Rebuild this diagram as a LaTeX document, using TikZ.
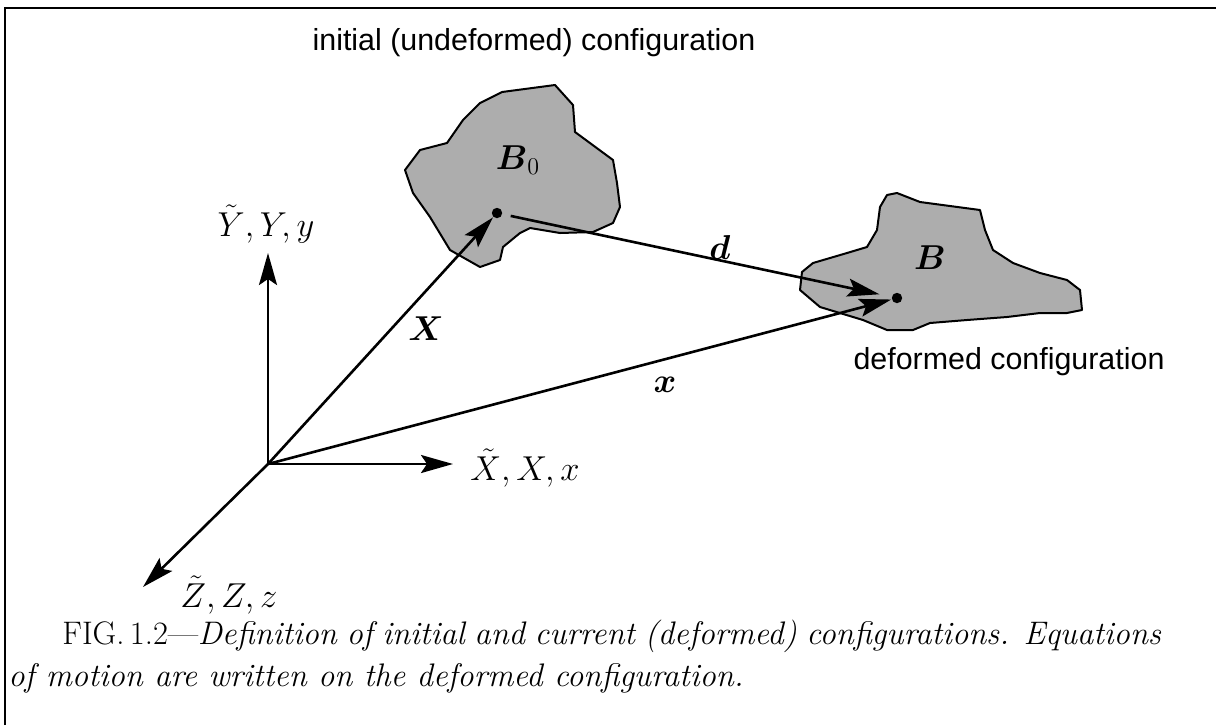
\documentclass[tikz,border=0pt]{standalone}
\usepackage{amsmath}
\usepackage{fontspec}
\newfontfamily\helv{Liberation Sans}
\usetikzlibrary{positioning,arrows.meta}

\begin{document}
\begin{tikzpicture}[x=0.5pt, y=-0.5pt,
  every node/.style={inner sep=0pt},
  arr/.style={-{Stealth[length=16pt, width=9pt, inset=3pt]}, line width=1.3pt},
  blob/.style={draw, line width=1pt, fill=black!32, line join=round},
  lbl/.style={font=\fontsize{17.28}{20}\selectfont},
  cfg/.style={font=\helv\fontsize{15.2}{19}\selectfont},
  captxt/.style={font=\fontsize{16.3}{20}\selectfont, anchor=base west}
]
  \useasboundingbox (0,0) rectangle (1216,725);
  \draw[line width=1pt] (5,725) -- (5,8) -- (1216,8);

  \node[cfg] (ttl) at (534,43) {initial (undeformed) configuration};
  \node[cfg] (dcfg) at (1009,362) {deformed configuration};

  \draw[blob] (502,92) -- (555,85) -- (573,105) -- (575,132) -- (613,160) -- (617,183)
    -- (620,207) -- (613,223) -- (593,232) -- (560,233) -- (530,228) -- (520,233)
    -- (503,247) -- (500,260) -- (480,267) -- (450,250) -- (430,217) -- (413,193)
    -- (405,170) -- (420,150) -- (447,143) -- (463,120) -- (480,103) -- cycle;
  \draw[blob] (887,195) -- (897,193) -- (920,202) -- (980,210) -- (985,230) -- (993,250)
    -- (1013,263) -- (1040,273) -- (1067,280) -- (1080,290) -- (1082,310) -- (1067,313)
    -- (1040,313) -- (1007,317) -- (967,320) -- (930,323) -- (913,330) -- (887,330)
    -- (863,320) -- (820,307) -- (800,290) -- (802,272) -- (813,263) -- (847,253)
    -- (867,247) -- (877,230) -- (880,207) -- cycle;

  \coordinate (O) at (268,464);
  \coordinate (Ytip) at (268,253);
  \coordinate (Xtip) at (453,464);
  \coordinate (Ztip) at (143,587);
  \coordinate (P0) at (497,213);
  \coordinate (P) at (897,298);

  \draw[arr] (O) -- (Ytip);
  \draw[arr] (O) -- (Xtip);
  \draw[arr] (O) -- (Ztip);
  \draw[arr, shorten >=3pt] (O) -- (P0);
  \draw[arr, shorten >=3pt] (O) -- (P);
  \draw[arr, shorten <=7pt, shorten >=9pt] (P0) -- (P);
  \fill (P0) circle (2.6pt);
  \fill (P) circle (2.6pt);

  \node[lbl, anchor=base] (ylab) at (266,236) {$\tilde{Y},Y,y$};
  \node[lbl, anchor=base west] (xlab) at (470,480) {$\tilde{X},X,x$};
  \node[lbl, anchor=base west] (zlab) at (180,607) {$\tilde{Z},Z,z$};
  \node[lbl] (Xl) at (426,329) {$\boldsymbol{X}$};
  \node[lbl] (xl) at (665,385) {$\boldsymbol{x}$};
  \node[lbl] (dl) at (720,247) {$\boldsymbol{d}$};
  \node[lbl] (b0) at (518,160) {$\boldsymbol{B}_0$};
  \node[lbl] (b) at (930,258) {$\boldsymbol{B}$};

  \node[captxt] (cap1) at (62,644) {\makebox[549.5pt][s]{FIG.\,1.2---\textit{Definition of initial and current (deformed) configurations. Equations}}};
  \node[captxt] (cap2) at (8,686) {\textit{of motion are written on the deformed configuration.}};
\end{tikzpicture}
\end{document}
